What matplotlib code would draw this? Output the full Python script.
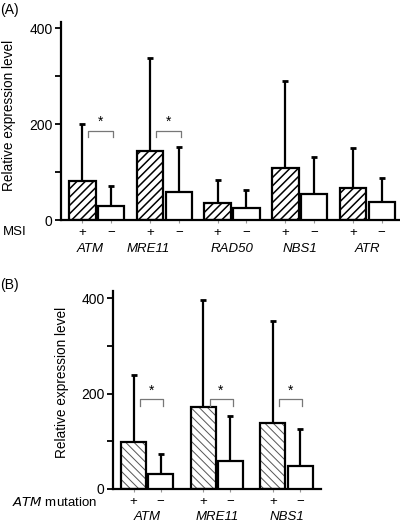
import numpy as np
import matplotlib.pyplot as plt
from matplotlib.transforms import ScaledTranslation

plt.rcParams['font.family'] = ['Liberation Sans', 'DejaVu Sans']

# panel A: MSI + / - groups
genes_a = ['ATM', 'MRE11', 'RAD50', 'NBS1', 'ATR']
pos_a = [81, 144, 35, 108, 67]
pos_err_a = [200, 337, 83, 290, 150]
neg_a = [30, 58, 26, 54, 38]
neg_err_a = [71, 152, 62, 131, 87]
sig_a = [0, 1]          # groups with a * bracket
sig_y_a = [186, 186]

# panel B: ATM mutation + / - groups
genes_b = ['ATM', 'MRE11', 'NBS1']
pos_b = [98, 172, 138]
pos_err_b = [239, 396, 352]
neg_b = [31, 59, 49]
neg_err_b = [73, 152, 125]
sig_b = [0, 1, 2]
sig_y_b = [189, 189, 189]

yticks = [0, 100, 200, 300, 400]
ytick_labels = ['0', '', '200', '', '400']

W, H = 400, 528
fig = plt.figure(figsize=(W / 100, H / 100), dpi=100)


def panel(ax, genes, pos, pos_err, neg, neg_err, sig, sig_y, width, off,
          hatch, hatch_col, hatch_lw, name_shift):
    x = np.arange(len(genes))
    xp = x
    xn = x + off
    for xs, vals, h in [(xp, pos, hatch), (xn, neg, None)]:
        if h:
            bb = ax.bar(xs, vals, width, color='white', edgecolor=hatch_col,
                        hatch=h, linewidth=0, zorder=2)
            for p in bb:
                if hasattr(p, 'set_hatch_linewidth'):
                    p.set_hatch_linewidth(hatch_lw)
        ax.bar(xs, vals, width, color='none' if h else 'white',
               edgecolor='black', linewidth=1.6, zorder=3)
    ax.errorbar(xp, pos, yerr=[np.zeros(len(pos)), np.array(pos_err) - np.array(pos)],
                fmt='none', ecolor='black', elinewidth=1.6, capsize=2,
                capthick=2, zorder=1)
    ax.errorbar(xn, neg, yerr=[np.zeros(len(neg)), np.array(neg_err) - np.array(neg)],
                fmt='none', ecolor='black', elinewidth=1.6, capsize=2,
                capthick=2, zorder=1)
    for g, yv in zip(sig, sig_y):
        x0 = xp[g] + 0.09
        x1 = xn[g] + 0.03
        ax.plot([x0, x0, x1, x1], [yv - 14, yv, yv, yv - 14], color='#777777',
                lw=0.9, zorder=4, clip_on=False)
        ax.text((x0 + x1) / 2, yv + 3, '*', ha='center', va='bottom',
                fontsize=10, zorder=5)
    ticks = np.ravel(np.column_stack([xp, xn]))
    ax.set_xticks(ticks)
    ax.set_xticklabels(['+', '\u2212'] * len(genes), fontsize=9.5)
    ax.tick_params(axis='x', length=2, width=0.8, color='#999999', pad=3)
    ax.set_yticks(yticks)
    ax.set_yticklabels(ytick_labels, fontsize=10)
    ax.tick_params(axis='y', length=4, width=1.3, pad=2)
    for s in ['top', 'right']:
        ax.spines[s].set_visible(False)
    for s in ['left', 'bottom']:
        ax.spines[s].set_linewidth(1.6)
    # gene names 28 px below the x axis
    tr = ax.get_xaxis_transform() + ScaledTranslation(0, -0.285, fig.dpi_scale_trans)
    for i, gname in enumerate(genes):
        ax.text((xp[i] + xn[i]) / 2 + name_shift[i], 0, gname,
                transform=tr, ha='center', va='center',
                fontsize=9.5, style='italic')


# panel A axes
axA = fig.add_axes([61 / W, (H - 220) / H, 339 / W, 412 * 0.48 / H])
panel(axA, genes_a, pos_a, pos_err_a, neg_a, neg_err_a, sig_a, sig_y_a,
      0.39, 0.425, '////', 'black', 1.1, [-0.1, -0.245, 0, 0, 0])
axA.set_xlim(-0.316, 4.695)
axA.set_ylim(0, 412)
fig.text(27 / W, 1 - 232 / H, 'MSI', ha='right', va='center', fontsize=9.5)
fig.text(9 / W, 1 - 115 / H, 'Relative expression level', rotation=90,
         ha='center', va='center', fontsize=9.8)
fig.text(0, 1 - 10 / H, '(A)', ha='left', va='center', fontsize=10)

# panel B axes
axB = fig.add_axes([113 / W, (H - 489) / H, 208 / W, 415 * 0.477 / H])
panel(axB, genes_b, pos_b, pos_err_b, neg_b, neg_err_b, sig_b, sig_y_b,
      0.36, 0.39, '\\\\\\\\', '#555555', 0.7, [0, 0, 0])
axB.set_xlim(-0.295, 2.69)
axB.set_ylim(0, 415)
fig.text(97 / W, 1 - 502 / H, r'$\it{ATM}$ mutation', ha='right',
         va='center', fontsize=9.5)
fig.text(62 / W, 1 - 382 / H, 'Relative expression level', rotation=90,
         ha='center', va='center', fontsize=9.8)
fig.text(0, 1 - 285 / H, '(B)', ha='left', va='center', fontsize=10)

fig.savefig('out.png', dpi=100)
